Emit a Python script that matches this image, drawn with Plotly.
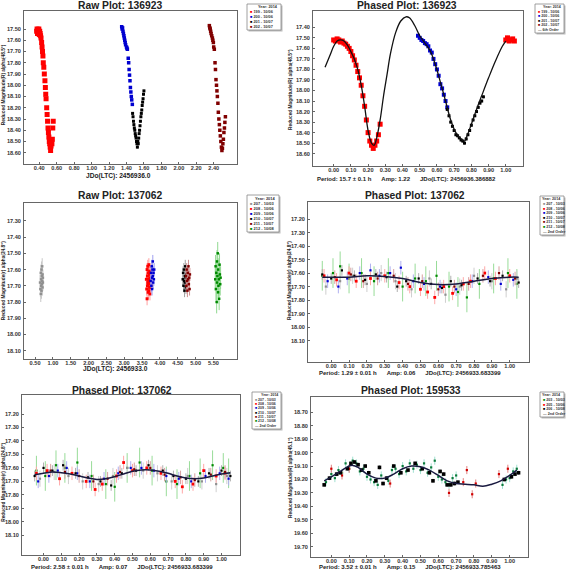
import plotly.graph_objects as go

W, H = 567, 571

# ---------------- DATA ----------------
# Panel 1: Raw Plot 136923
r199_x = [0.37,0.375,0.38,0.385,0.39,0.395,0.40,0.405,0.41,0.415,0.42,0.427,0.432,0.437,0.442,0.446,0.452,0.458,0.465,0.47,0.474,0.478,0.485,0.49,0.495,0.50,0.505,0.51,0.515,0.52,0.525,0.53,0.535,0.54,0.545,0.55,0.555,0.56]
r199_y = [17.52,17.50,17.54,17.51,17.53,17.50,17.55,17.52,17.54,17.56,17.58,17.62,17.66,17.70,17.74,17.80,17.84,17.90,17.96,18.02,18.08,18.12,18.20,18.26,18.32,18.38,18.42,18.46,18.50,18.52,18.55,18.58,18.54,18.50,18.52,18.48,18.38,18.32]
b200_x = [1.345,1.35,1.355,1.36,1.365,1.37,1.375,1.38,1.385,1.39,1.40,1.405,1.41,1.42,1.425,1.43,1.435,1.44,1.445,1.45,1.455,1.46,1.467]
b200_y = [17.48,17.50,17.49,17.52,17.54,17.56,17.58,17.60,17.62,17.64,17.66,17.67,17.68,17.76,17.80,17.86,17.91,17.96,18.02,18.06,18.10,18.13,18.17]
k201_x = [1.47,1.475,1.48,1.485,1.49,1.495,1.50,1.505,1.51,1.515,1.52,1.525,1.53,1.535,1.54,1.545,1.55,1.555,1.56,1.565,1.57,1.575,1.58,1.585,1.59,1.595,1.60]
k201_y = [18.25,18.28,18.32,18.35,18.38,18.40,18.43,18.45,18.47,18.50,18.52,18.55,18.50,18.52,18.47,18.43,18.40,18.36,18.32,18.28,18.25,18.22,18.18,18.15,18.12,18.08,18.05]
d202_x = [2.35,2.355,2.36,2.365,2.37,2.377,2.385,2.39,2.396,2.40,2.407,2.415,2.42,2.426,2.432,2.437,2.442,2.448,2.453,2.459,2.465,2.47,2.476,2.482,2.488,2.494,2.50,2.505,2.511,2.517,2.523,2.528,2.534]
d202_y = [17.47,17.49,17.50,17.52,17.54,17.56,17.58,17.60,17.62,17.66,17.68,17.80,17.86,17.95,18.00,18.05,18.10,18.16,18.24,18.30,18.35,18.40,18.45,18.50,18.55,18.58,18.56,18.52,18.48,18.42,18.38,18.33,18.28]

# Panel 2: Phased Plot 136923
p2_red_x = [0.00,0.01,0.02,0.03,0.04,0.05,0.06,0.07,0.08,0.09,0.10,0.11,0.12,0.13,0.14,0.15,0.16,0.17,0.18,0.19,0.20,0.21,0.22,0.23,0.24,0.25,0.26,0.27,1.00,1.01,1.02,1.03,1.04,1.05]
p2_red_y = [17.52,17.53,17.51,17.52,17.54,17.53,17.55,17.56,17.58,17.60,17.63,17.67,17.71,17.76,17.82,17.88,17.95,18.05,18.15,18.28,18.40,18.48,18.52,18.55,18.52,18.48,18.42,18.32,17.52,17.50,17.53,17.52,17.51,17.53]
p2_blue_x = [0.49,0.50,0.51,0.52,0.53,0.54,0.55,0.56,0.57,0.58,0.59,0.60,0.61,0.62,0.63,0.64,0.65,0.66]
p2_blue_y = [17.48,17.50,17.52,17.53,17.55,17.56,17.58,17.62,17.64,17.70,17.75,17.80,17.86,17.94,17.98,18.04,18.10,18.16]
p2_black_x = [0.66,0.67,0.68,0.69,0.70,0.71,0.72,0.73,0.74,0.75,0.76,0.77,0.78,0.79,0.80,0.81,0.82,0.83,0.84,0.85,0.86,0.87]
p2_black_y = [18.18,18.24,18.30,18.34,18.38,18.42,18.43,18.45,18.47,18.48,18.50,18.46,18.42,18.38,18.33,18.28,18.24,18.20,18.16,18.12,18.10,18.06]
p2_fit_x = [-0.05,-0.02,0.00,0.02,0.04,0.06,0.08,0.10,0.12,0.14,0.16,0.18,0.20,0.22,0.235,0.25,0.27,0.29,0.31,0.33,0.36,0.39,0.42,0.44,0.47,0.50,0.53,0.56,0.59,0.62,0.65,0.68,0.71,0.74,0.76,0.77,0.80,0.83,0.86,0.90,0.94,0.98,1.00]
p2_fit_y = [17.78,17.66,17.58,17.53,17.52,17.53,17.57,17.63,17.70,17.80,17.95,18.15,18.38,18.50,18.52,18.45,18.28,18.05,17.85,17.65,17.45,17.34,17.30,17.31,17.38,17.48,17.55,17.62,17.75,17.92,18.10,18.28,18.40,18.46,18.48,18.45,18.32,18.18,18.05,17.88,17.72,17.58,17.53]

# Panel 3: Raw Plot 137062
g207_x = [0.64,0.65,0.66,0.66,0.67,0.67,0.68,0.68,0.69,0.69,0.70,0.70,0.71,0.71,0.72,0.72]
g207_y = [17.68,17.72,17.62,17.75,17.66,17.70,17.60,17.73,17.64,17.69,17.58,17.67,17.63,17.71,17.65,17.68]
r208_x = [3.62,3.63,3.64,3.64,3.65,3.65,3.66,3.66,3.67,3.67,3.68,3.68,3.69,3.69,3.70,3.70,3.71,3.71,3.72,3.72,3.73,3.74,3.75,3.76]
r208_y = [17.66,17.72,17.60,17.78,17.64,17.70,17.58,17.68,17.74,17.62,17.66,17.69,17.57,17.73,17.63,17.67,17.71,17.61,17.65,17.75,17.68,17.62,17.66,17.70]
b209_x = [3.74,3.75,3.76,3.77,3.78,3.78,3.79,3.80,3.80,3.81,3.82,3.83,3.84]
b209_y = [17.67,17.62,17.70,17.58,17.65,17.72,17.60,17.64,17.55,17.68,17.62,17.66,17.60]
k210_x = [4.64,4.65,4.66,4.67,4.68,4.69,4.70,4.70,4.71,4.72,4.73,4.74,4.75]
k210_y = [17.66,17.62,17.70,17.60,17.67,17.73,17.64,17.68,17.58,17.65,17.71,17.63,17.67]
d211_x = [4.73,4.74,4.75,4.76,4.77,4.78,4.79,4.80,4.81,4.82,4.83,4.84]
d211_y = [17.64,17.70,17.60,17.67,17.73,17.62,17.66,17.58,17.69,17.65,17.72,17.63]
g212_x = [5.55,5.56,5.57,5.58,5.59,5.60,5.60,5.61,5.62,5.63,5.63,5.64,5.65,5.66,5.67,5.68,5.69,5.70]
g212_y = [17.66,17.58,17.72,17.62,17.80,17.55,17.68,17.64,17.50,17.74,17.60,17.70,17.66,17.78,17.57,17.63,17.69,17.65]

# Panel 4: Phased Plot 137062 (1.29 h)
p4_gray_x = [-0.03,0.05,0.12,0.20,0.28,0.36,0.45,0.55,0.64,0.72,0.80,0.90,0.98,1.04]
p4_gray_y = [17.70,17.66,17.62,17.68,17.60,17.66,17.72,17.64,17.76,17.70,17.62,17.66,17.72,17.64]
p4_red_x = [-0.04,0.03,0.10,0.14,0.22,0.30,0.38,0.44,0.50,0.54,0.58,0.63,0.68,0.74,0.78,0.86,0.92,1.00]
p4_red_y = [17.62,17.65,17.60,17.66,17.64,17.62,17.67,17.70,17.72,17.74,17.78,17.70,17.75,17.68,17.66,17.60,17.64,17.62]
p4_blue_x = [-0.02,0.04,0.09,0.16,0.22,0.27,0.33,0.39,0.46,0.52,0.61,0.70,0.79,0.88,0.95,1.02]
p4_blue_y = [17.66,17.70,17.64,17.60,17.58,17.62,17.60,17.56,17.66,17.68,17.70,17.72,17.66,17.63,17.68,17.65]
p4_black_x = [-0.05,0.00,0.06,0.13,0.19,0.25,0.31,0.37,0.42,0.49,0.56,0.62,0.67,0.73,0.82,0.89,0.96,1.05]
p4_black_y = [17.61,17.64,17.58,17.62,17.65,17.61,17.63,17.70,17.66,17.64,17.68,17.71,17.66,17.69,17.64,17.66,17.62,17.67]
p4_dred_x = [0.02,0.11,0.18,0.26,0.35,0.43,0.51,0.60,0.69,0.77,0.85,0.94,1.03]
p4_dred_y = [17.63,17.61,17.66,17.64,17.62,17.68,17.66,17.72,17.70,17.68,17.62,17.60,17.64]
p4_green_x = [-0.05,0.01,0.05,0.10,0.17,0.24,0.32,0.40,0.47,0.53,0.59,0.66,0.71,0.76,0.83,0.91,0.99,1.04]
p4_green_y = [17.62,17.60,17.55,17.64,17.60,17.66,17.60,17.70,17.64,17.66,17.62,17.70,17.74,17.78,17.68,17.64,17.60,17.68]
p4_fit_x = [-0.05,0.00,0.10,0.20,0.30,0.40,0.50,0.60,0.70,0.80,0.90,1.00,1.05]
p4_fit_y = [17.63,17.63,17.63,17.62,17.625,17.64,17.67,17.685,17.68,17.66,17.64,17.63,17.63]

# Panel 5: Phased Plot 137062 (2.58 h)
p5_gray_x = [-0.02,0.06,0.14,0.22,0.31,0.39,0.47,0.56,0.64,0.72,0.81,0.89,0.97,1.03]
p5_gray_y = [17.68,17.63,17.66,17.70,17.72,17.66,17.60,17.62,17.64,17.70,17.66,17.70,17.72,17.66]
p5_red_x = [-0.04,0.02,0.09,0.16,0.24,0.29,0.33,0.41,0.45,0.50,0.58,0.66,0.74,0.78,0.84,0.90,0.97,1.02]
p5_red_y = [17.64,17.62,17.68,17.64,17.70,17.76,17.72,17.66,17.56,17.62,17.60,17.64,17.70,17.74,17.72,17.62,17.66,17.64]
p5_blue_x = [-0.03,0.03,0.08,0.13,0.19,0.26,0.34,0.42,0.49,0.55,0.62,0.69,0.76,0.83,0.91,0.99,1.04]
p5_blue_y = [17.70,17.66,17.62,17.60,17.64,17.70,17.68,17.64,17.60,17.60,17.62,17.66,17.68,17.70,17.66,17.64,17.68]
p5_black_x = [-0.05,0.00,0.05,0.11,0.18,0.25,0.32,0.38,0.44,0.52,0.59,0.67,0.73,0.80,0.87,0.93,1.00,1.05]
p5_black_y = [17.66,17.60,17.62,17.58,17.64,17.67,17.70,17.73,17.64,17.62,17.58,17.62,17.66,17.68,17.70,17.64,17.62,17.66]
p5_dred_x = [0.04,0.12,0.20,0.28,0.36,0.43,0.51,0.60,0.68,0.77,0.85,0.94,1.02]
p5_dred_y = [17.62,17.63,17.66,17.70,17.68,17.63,17.61,17.60,17.65,17.67,17.69,17.65,17.63]
p5_green_x = [-0.04,0.01,0.07,0.12,0.19,0.27,0.35,0.40,0.47,0.54,0.61,0.69,0.75,0.82,0.88,0.95,1.01,1.04]
p5_green_y = [17.62,17.66,17.58,17.60,17.56,17.66,17.72,17.74,17.60,17.56,17.62,17.70,17.72,17.66,17.64,17.58,17.60,17.64]
p5_fit_x = [-0.05,0.00,0.05,0.10,0.15,0.20,0.25,0.30,0.35,0.40,0.45,0.50,0.55,0.60,0.65,0.70,0.75,0.80,0.85,0.90,0.95,1.00,1.05]
p5_fit_y = [17.65,17.64,17.63,17.635,17.645,17.66,17.675,17.685,17.68,17.665,17.645,17.625,17.615,17.615,17.625,17.64,17.66,17.675,17.68,17.675,17.66,17.645,17.635]

# Panel 6: Phased Plot 159533
p6_green_x = [-0.03,0.00,0.02,0.04,0.06,0.08,0.10,0.12,0.14,0.16,0.18,0.20,0.22,0.24,0.26,0.28,0.32,0.34,0.36,0.38,0.40,0.42,0.44,0.46,0.48,0.50,0.52,0.54,0.56,0.58,0.60,0.62,0.64,0.66,0.68,0.70,0.96,0.98,1.00,1.02,1.04]
p6_green_y = [19.22,19.16,19.19,19.13,19.15,19.08,19.12,19.06,19.08,19.14,19.12,19.18,19.20,19.22,19.24,19.17,19.21,19.13,19.12,19.16,19.10,19.14,19.08,19.12,19.09,19.13,19.08,19.15,19.11,19.06,19.18,19.20,19.22,19.24,19.19,19.17,19.24,19.20,19.19,19.14,19.12]
p6_black_x = [-0.04,-0.01,0.03,0.05,0.09,0.11,0.13,0.15,0.17,0.19,0.21,0.25,0.27,0.29,0.31,0.35,0.39,0.43,0.47,0.51,0.55,0.57,0.61,0.63,0.65,0.67,0.69,0.71,0.97,1.01,1.03,1.05]
p6_black_y = [19.24,19.19,19.16,19.15,19.12,19.08,19.07,19.09,19.13,19.10,19.15,19.21,19.11,19.23,19.19,19.10,19.15,19.13,19.08,19.12,19.15,19.21,19.14,19.16,19.24,19.24,19.23,19.22,19.20,19.18,19.16,19.15]
p6_red_x = [0.00,0.06,0.10,0.33,0.66,0.74,0.76,0.79,0.81,0.94,0.99]
p6_red_y = [19.12,19.17,19.12,19.23,19.30,19.22,19.13,19.31,19.23,19.16,19.12]
p6_fit_x = [-0.04,0.00,0.05,0.10,0.12,0.15,0.20,0.25,0.30,0.35,0.40,0.45,0.50,0.55,0.60,0.65,0.70,0.75,0.80,0.85,0.90,0.95,1.00,1.04]
p6_fit_y = [19.21,19.18,19.14,19.10,19.095,19.11,19.16,19.19,19.19,19.16,19.12,19.10,19.105,19.13,19.17,19.21,19.23,19.235,19.24,19.25,19.235,19.21,19.17,19.13]

# Tick labels
p1_xticks = [0.40,0.60,0.80,1.00,1.20,1.40,1.60,1.80,2.00,2.20,2.40]
p1_yticks = [17.50,17.60,17.70,17.80,17.90,18.00,18.10,18.20,18.30,18.40,18.50,18.60]
p2_yticks = [17.40,17.50,17.60,17.70,17.80,17.90,18.00,18.10,18.20,18.30,18.40,18.50,18.60]
phase_xticks = [0.00,0.10,0.20,0.30,0.40,0.50,0.60,0.70,0.80,0.90,1.00]
p3_xticks = [0.50,1.00,1.50,2.00,2.50,3.00,3.50,4.00,4.50,5.00,5.50]
p3_yticks = [17.30,17.40,17.50,17.60,17.70,17.80,17.90,18.00,18.10]
p45_yticks = [17.20,17.30,17.40,17.50,17.60,17.70,17.80,17.90,18.00,18.10]
p6_yticks = [18.70,18.80,18.90,19.00,19.10,19.20,19.30,19.40,19.50,19.60,19.70]

# ---------------- LAYOUT HELPERS ----------------
FONT = "Liberation Sans"
def px(x): return x / W
def py(y): return 1 - y / H

panels = [
    ((24, 11, 237, 164), [0.225, 2.667], [18.70, 17.34], p1_xticks, p1_yticks),
    ((313, 11, 523, 166), [-0.12, 1.10], [18.717, 17.245], phase_xticks, p2_yticks),
    ((24, 203, 237, 359), [0.19, 6.16], [18.151, 17.19], p3_xticks, p3_yticks),
    ((308, 202, 529, 362), [-0.13, 1.108], [18.258, 17.074], phase_xticks, p45_yticks),
    ((22, 395, 240, 555), [-0.121, 1.104], [18.246, 17.059], phase_xticks, p45_yticks),
    ((311, 397, 528, 557), [-0.114, 1.103], [19.777, 18.586], phase_xticks, p6_yticks),
]

fig = go.Figure()
layout = dict(width=W, height=H, margin=dict(l=0, r=0, t=0, b=0),
              paper_bgcolor="white", plot_bgcolor="white", showlegend=False,
              font=dict(family=FONT, color="#222"))
for i, (box, xr, yr, xt, yt) in enumerate(panels, start=1):
    l, t, r, b = box
    sx = "" if i == 1 else str(i)
    common = dict(showgrid=False, zeroline=False, showline=True, mirror=True,
                  linecolor="#666", linewidth=1, ticks="inside", ticklen=2,
                  tickcolor="#666", tickformat=".2f",
                  tickfont=dict(family=FONT, size=5.6, color="#333", weight="bold"))
    layout["xaxis" + sx] = dict(domain=[px(l), px(r)], range=xr, anchor="y" + sx,
                                tickvals=xt, ticklabelstandoff=-2, **common)
    layout["yaxis" + sx] = dict(domain=[py(b), py(t)], range=yr, anchor="x" + sx,
                                tickvals=yt, ticklabelstandoff=1, **common)
fig.update_layout(**layout)

def add_pts(i, x, y, color, size=3, symbol="square", err=None, ecolor=None):
    sx = "" if i == 1 else str(i)
    kw = {}
    if err is not None:
        kw["error_y"] = dict(type="constant", value=err, color=ecolor or color,
                             thickness=1, width=0)
    fig.add_trace(go.Scatter(x=x, y=y, mode="markers", xaxis="x" + sx, yaxis="y" + sx,
                             marker=dict(color=color, size=size, symbol=symbol,
                                         line=dict(width=0)), **kw))

def add_fit(i, x, y, color="#111", width=1.3):
    sx = "" if i == 1 else str(i)
    fig.add_trace(go.Scatter(x=x, y=y, mode="lines", xaxis="x" + sx, yaxis="y" + sx,
                             line=dict(color=color, width=width, shape="spline")))

RED, BLUE, BLACK, DRED, GRAY, GREEN = "#ff0000", "#0000d0", "#000000", "#800000", "#909090", "#008a00"

add_pts(1, r199_x, r199_y, RED, 5, err=0.015, ecolor="#ff9090")
add_pts(1, b200_x, b200_y, BLUE, 3.5, err=0.012, ecolor="#8080ff")
add_pts(1, k201_x, k201_y, BLACK, 3, err=0.012, ecolor="#888888")
add_pts(1, d202_x, d202_y, DRED, 3.5, err=0.012, ecolor="#c08080")

add_pts(2, p2_red_x, p2_red_y, RED, 5, err=0.02, ecolor="#ff9090")
add_pts(2, p2_blue_x, p2_blue_y, BLUE, 4, err=0.015, ecolor="#8080ff")
add_pts(2, p2_black_x, p2_black_y, BLACK, 3, err=0.015, ecolor="#888888")
add_fit(2, p2_fit_x, p2_fit_y, "#111", 1.3)

add_pts(3, g207_x, g207_y, GRAY, 2.5, err=0.05, ecolor="#c8c8c8")
add_pts(3, r208_x, r208_y, RED, 3, err=0.04, ecolor="#ffa0a0")
add_pts(3, b209_x, b209_y, BLUE, 2.5, err=0.04, ecolor="#a0a0f0")
add_pts(3, k210_x, k210_y, BLACK, 2.5, err=0.04, ecolor="#a0a0a0")
add_pts(3, d211_x, d211_y, DRED, 2.5, err=0.04, ecolor="#d09090")
add_pts(3, g212_x, g212_y, GREEN, 2.5, err=0.07, ecolor="#90d890")

for i, (gx, gy, rx, ry, bx, by, kx, ky, dx, dy, grx, gry, fx, fy) in (
    (4, (p4_gray_x, p4_gray_y, p4_red_x, p4_red_y, p4_blue_x, p4_blue_y, p4_black_x, p4_black_y,
         p4_dred_x, p4_dred_y, p4_green_x, p4_green_y, p4_fit_x, p4_fit_y)),
    (5, (p5_gray_x, p5_gray_y, p5_red_x, p5_red_y, p5_blue_x, p5_blue_y, p5_black_x, p5_black_y,
         p5_dred_x, p5_dred_y, p5_green_x, p5_green_y, p5_fit_x, p5_fit_y))):
    add_pts(i, grx, gry, GREEN, 2.2, err=0.11, ecolor="#98dc98")
    add_pts(i, gx, gy, GRAY, 2.2, err=0.06, ecolor="#cfcfcf")
    add_pts(i, bx, by, BLUE, 2.2, err=0.05, ecolor="#b0b0f0")
    add_pts(i, rx, ry, RED, 2.8, err=0.05, ecolor="#ffa8a8")
    add_pts(i, dx, dy, DRED, 2.2, err=0.05, ecolor="#d8a0a0")
    add_pts(i, kx, ky, BLACK, 2.2, err=0.04, ecolor="#b0b0b0")
    add_fit(i, fx, fy, "#1a1a40", 1.5)

add_pts(6, p6_green_x, p6_green_y, "#0a7a3a", 2.2, err=0.03, ecolor="#a0e0d0")
add_pts(6, p6_red_x, p6_red_y, "#d00000", 2.2, err=0.03, ecolor="#e08080")
add_pts(6, p6_black_x, p6_black_y, BLACK, 3.6, err=0.015, ecolor="#a0a0a0")
add_fit(6, p6_fit_x, p6_fit_y, "#1a1a40", 1.5)

# ---------------- TEXT ----------------
ann = []
def text(x, y, s, size, angle=0, xanchor="center"):
    ann.append(dict(x=px(x), y=py(y), xref="paper", yref="paper", text=s, showarrow=False,
                    textangle=angle, xanchor=xanchor, yanchor="middle",
                    font=dict(family=FONT, size=size, color="#222")))

NB = "\u00a0" * 6
titles = [(120, 5, "Raw Plot: 136923"), (407, 5, "Phased Plot: 136923"),
          (119.5, 196, "Raw Plot: 137062"), (414.7, 196, "Phased Plot: 137062"),
          (121.7, 390, "Phased Plot: 137062"), (410.5, 390, "Phased Plot: 159533")]
for x, y, s in titles:
    text(x, y, "<b>" + s + "</b>", 10.3)

text(118.5, 175.5, "<b>JDo(LTC): 2456936.0</b>", 6.6)
text(115, 369, "<b>JDo(LTC): 2456933.0</b>", 6.6)
text(406, 178.5, "<b>Period: 15.7 ± 0.1 h" + NB + "Amp: 1.22" + NB + "JDo(LTC): 2456936.386882</b>", 6.0)
text(409.7, 373, "<b>Period: 1.29 ± 0.01 h" + NB + "Amp: 0.06" + NB + "JDo(LTC): 2456933.683399</b>", 6.0)
text(121.8, 566.5, "<b>Period: 2.58 ± 0.01 h" + NB + "Amp: 0.07" + NB + "JDo(LTC): 2456933.683399</b>", 6.0)
text(409.7, 566.5, "<b>Period: 3.52 ± 0.01 h" + NB + "Amp: 0.15" + NB + "JDo(LTC): 2456933.785463</b>", 6.0)

ytitles = [(3.2, 85, "Reduced Magnitude(R) alpha(48.5°)"), (290, 90, "Reduced Magnitude(R) alpha(48.5°)"),
           (3.2, 281, "Reduced Magnitude(r) alpha(24.8°)"), (289, 281, "Reduced Magnitude(r) alpha(24.8°)"),
           (2.8, 482, "Reduced Magnitude(r) alpha(24.8°)"), (290, 478, "Reduced Magnitude(R) alpha(45.1°)")]
for x, y, s in ytitles:
    text(x, y, "<b>" + s + "</b>", 4.8, angle=-90)

legend_sets = [
    ((247, 4, 281, 30), [("■", RED, "199 - 10/06"), ("■", BLUE, "200 - 10/06"), ("■", BLACK, "201 - 10/07"), ("■", DRED, "202 - 10/07")]),
    ((535, 4, 564, 33), [("■", RED, "199 - 10/06"), ("■", BLUE, "200 - 10/06"), ("■", BLACK, "201 - 10/07"), ("■", DRED, "202 - 10/07"), ("—", BLACK, "6th Order")]),
    ((247, 195, 279, 232), [("■", GRAY, "207 - 10/03"), ("■", RED, "208 - 10/06"), ("■", BLUE, "209 - 10/06"), ("■", BLACK, "210 - 10/07"), ("■", DRED, "211 - 10/07"), ("■", GREEN, "212 - 10/08")]),
    ((540, 196, 564, 235), [("■", GRAY, "207 - 10/03"), ("■", RED, "208 - 10/06"), ("■", BLUE, "209 - 10/06"), ("■", BLACK, "210 - 10/07"), ("■", DRED, "211 - 10/07"), ("■", GREEN, "212 - 10/08"), ("—", BLACK, "2nd Order")]),
    ((252, 392, 281, 429), [("■", GRAY, "207 - 10/03"), ("■", RED, "208 - 10/06"), ("■", BLUE, "209 - 10/06"), ("■", BLACK, "210 - 10/07"), ("■", DRED, "211 - 10/07"), ("■", GREEN, "212 - 10/08"), ("—", BLACK, "2nd Order")]),
    ((540, 392, 564, 417), [("■", GREEN, "203 - 10/03"), ("■", RED, "205 - 10/06"), ("■", BLACK, "206 - 10/08"), ("—", BLACK, "2nd Order")]),
]
shapes = []
for (l, t, r, b), items in legend_sets:
    shapes.append(dict(type="rect", xref="paper", yref="paper", x0=px(l + 1.5), x1=px(r + 1.5),
                       y0=py(b + 1.5), y1=py(t + 1.5), fillcolor="#bbbbbb", line=dict(width=0)))
    shapes.append(dict(type="rect", xref="paper", yref="paper", x0=px(l), x1=px(r),
                       y0=py(b), y1=py(t), fillcolor="white", line=dict(color="#888", width=0.8)))
    n = len(items) + 1
    lh = (b - t - 2) / n
    fs = min(lh / 1.25, 4.2)
    ann.append(dict(x=px(r - 1), y=py(t + 1 + lh / 2), xref="paper", yref="paper",
                    text="<b>Year: 2014</b>", showarrow=False, xanchor="right", yanchor="middle",
                    font=dict(family=FONT, size=fs, color="#333")))
    for k, (sym, col, lab) in enumerate(items, start=1):
        yy = t + 1 + lh * (k + 0.5)
        ann.append(dict(x=px(l + 1), y=py(yy), xref="paper", yref="paper",
                        text="<span style='color:%s'>%s</span> <b>%s</b>" % (col, sym, lab),
                        showarrow=False, xanchor="left", yanchor="middle",
                        font=dict(family=FONT, size=fs, color="#333")))

fig.update_layout(annotations=ann, shapes=shapes)
fig.write_html("out.html", config={"displayModeBar": False},
               post_script="document.body.style.margin='0px';document.body.style.overflow='hidden';")
